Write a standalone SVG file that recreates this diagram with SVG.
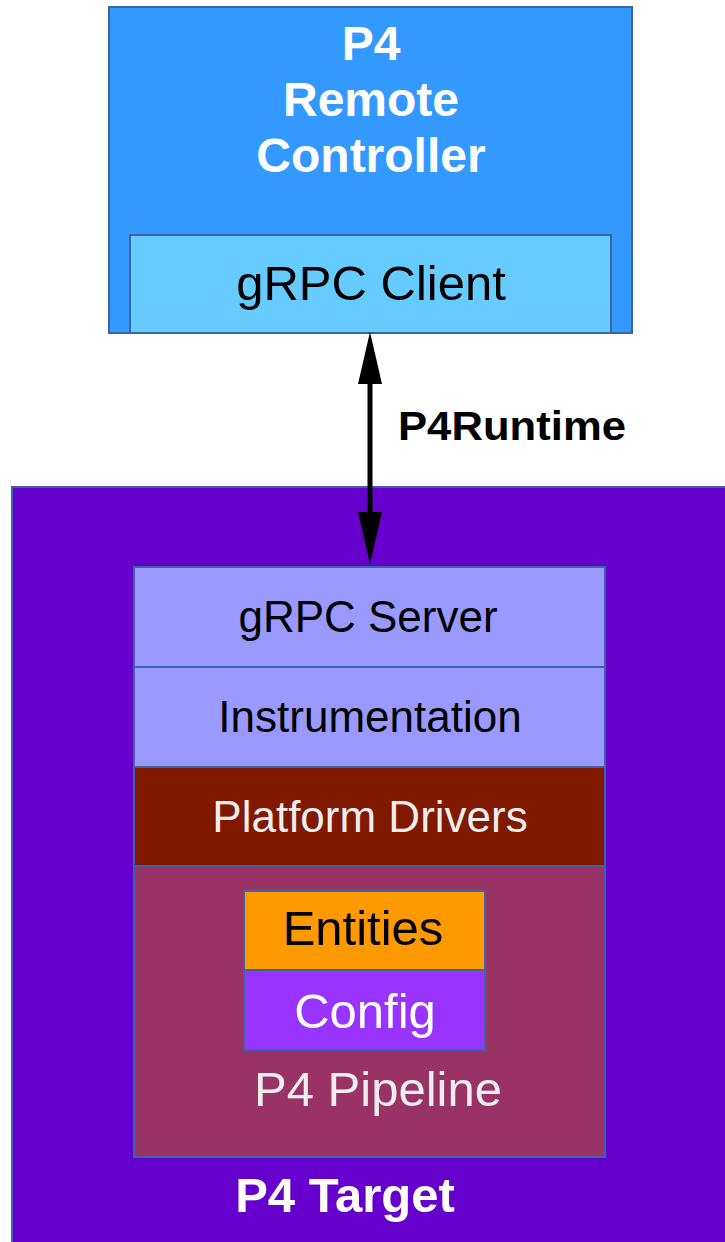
<svg xmlns="http://www.w3.org/2000/svg" width="725" height="1242" viewBox="0 0 725 1242">
<style>
text{font-family:"Liberation Sans",Arial,sans-serif;text-anchor:middle}
.b{stroke:#3b63a6;stroke-width:2}
.w{fill:#ffffff}
.e{fill:#eeeeee}
.k{fill:#000000}
.bold{font-weight:bold}
</style>
<defs>
<marker id="ah" viewBox="0 0 52 24" refX="0" refY="12" markerWidth="52" markerHeight="24" markerUnits="userSpaceOnUse" orient="auto-start-reverse">
<path d="M0,0 L52,12 L0,24 Z" fill="#000"/>
</marker>
</defs>
<rect width="725" height="1242" fill="#ffffff"/>
<g id="controller">
<rect class="b" x="109" y="7" width="523" height="326" fill="#3399ff"/>
<text class="w bold" x="371" y="60" font-size="48">P4</text>
<text class="w bold" x="371" y="116" font-size="48">Remote</text>
<text class="w bold" x="371" y="172" font-size="48">Controller</text>
</g>
<g id="grpc-client">
<rect class="b" x="130" y="235" width="481" height="98" fill="#66ccff"/>
<text class="k" x="371" y="300" font-size="49">gRPC Client</text>
</g>
<g id="target">
<rect class="b" x="12" y="487" width="730" height="770" fill="#6600cc"/>
<text class="w bold" x="345" y="1212" font-size="49">P4 Target</text>
</g>
<g id="grpc-server">
<rect class="b" x="134" y="567" width="471" height="100" fill="#9999ff"/>
<text class="k" x="368" y="632" font-size="44">gRPC Server</text>
</g>
<g id="instrumentation">
<rect class="b" x="134" y="667" width="471" height="100" fill="#9999ff"/>
<text class="k" x="370" y="732" font-size="44">Instrumentation</text>
</g>
<g id="platform-drivers">
<rect class="b" x="134" y="767" width="471" height="99" fill="#801900"/>
<text class="e" x="370" y="832" font-size="44">Platform Drivers</text>
</g>
<g id="pipeline">
<rect class="b" x="134" y="866" width="471" height="291" fill="#993366"/>
<text class="e" x="378" y="1106" font-size="49">P4 Pipeline</text>
</g>
<g id="entities">
<rect class="b" x="244" y="891" width="241" height="79" fill="#ff9900"/>
<text class="k" x="363" y="945" font-size="49">Entities</text>
</g>
<g id="config">
<rect class="b" x="244" y="970" width="241" height="80" fill="#9933ff"/>
<text class="w" x="365" y="1028" font-size="49">Config</text>
</g>
<g id="connectors">
<line x1="370" y1="384" x2="370" y2="512" stroke="#000" stroke-width="5" marker-start="url(#ah)" marker-end="url(#ah)"/>
<text class="k bold" x="512" y="440" font-size="40" textLength="228" lengthAdjust="spacingAndGlyphs">P4Runtime</text>
</g>
</svg>
